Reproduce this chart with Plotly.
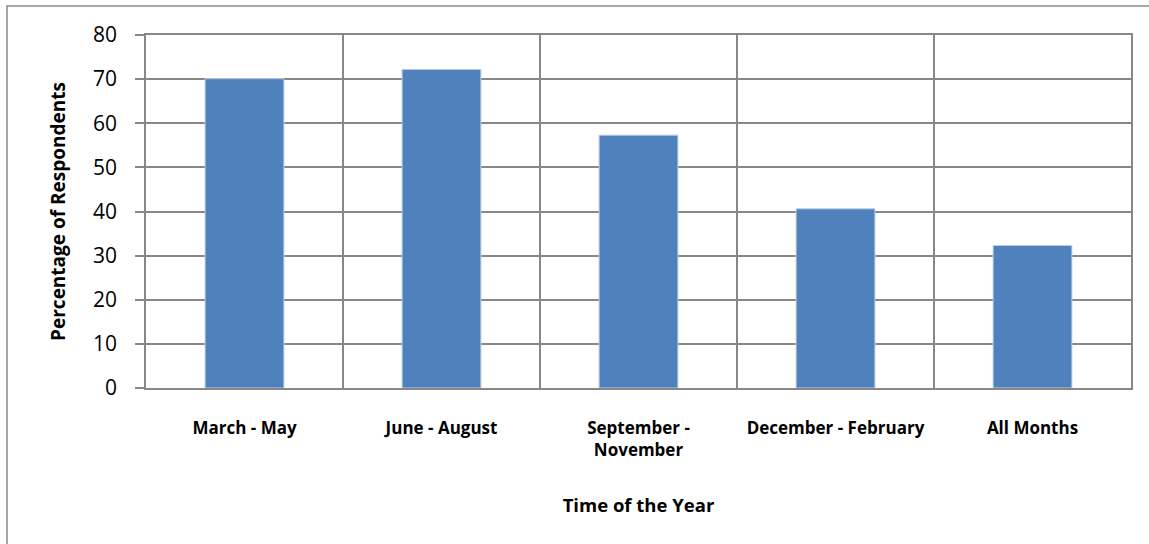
import plotly.graph_objects as go

categories = ["March - May", "June - August", "September -<br>November",
              "December - February", "All Months"]
values = [70.1, 72.2, 57.3, 40.6, 32.3]
y_ticks = [0, 10, 20, 30, 40, 50, 60, 70, 80]

W, H = 1149, 544
L, R, T, B = 146, 18, 35, 156
pw, ph = W - L - R, H - T - B

grid = "#878787"
font = "Open Sans"

fig = go.Figure(go.Bar(
    x=categories, y=values,
    marker=dict(color="#4F81BD", line=dict(color="#b9cde5", width=1)),
    width=0.4,
))

fig.update_layout(
    width=W, height=H,
    margin=dict(l=L, r=R, t=T, b=B),
    paper_bgcolor="white", plot_bgcolor="white",
    showlegend=False,
    font=dict(family=font, color="black"),
    shapes=[dict(type="rect", xref="paper", yref="paper",
                 x0=(7 - L) / pw, x1=1.2, y0=-0.8, y1=(H - B - 6) / ph,
                 line=dict(color="#8c8c8c", width=1.5), fillcolor="rgba(0,0,0,0)",
                 layer="below")],
)

fig.update_xaxes(
    type="category", tickson="boundaries",
    showgrid=True, gridcolor=grid, gridwidth=1.5,
    showline=True, linecolor=grid, linewidth=1.5, mirror=True,
    ticks="", ticklabelstandoff=24,
    tickfont=dict(family=font, size=17, color="black", weight="bold"),
    title=dict(text="<b>Time of the Year</b>", font=dict(family=font, size=18.5),
               standoff=39),
)
fig.update_yaxes(
    range=[0, 80], tickvals=y_ticks, ticktext=[str(v) for v in y_ticks],
    showgrid=True, gridcolor=grid, gridwidth=1.5,
    showline=True, linecolor=grid, linewidth=1.5, mirror=True,
    ticks="outside", ticklen=9, tickcolor=grid, tickwidth=1.5,
    ticklabelstandoff=14,
    tickfont=dict(family=font, size=21, color="black"),
    title=dict(text="<b>Percentage of Respondents</b>", font=dict(family=font, size=19),
               standoff=22),
    zeroline=False,
)

fig.write_html("out.html", config={"displayModeBar": False},
               post_script="document.body.style.margin='0';")
